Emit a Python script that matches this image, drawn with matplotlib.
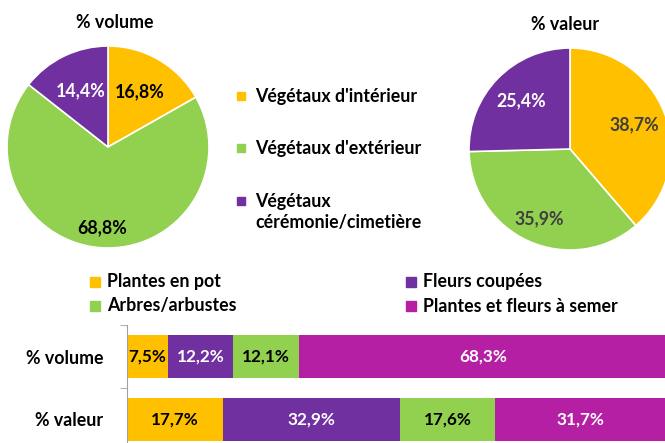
import matplotlib

matplotlib.use("Agg")
import matplotlib.pyplot as plt
import numpy as np

plt.rcParams["font.family"] = ["Lato", "DejaVu Sans"]
plt.rcParams["font.weight"] = "bold"

YELLOW = "#FFC000"
GREEN = "#92D050"
PURPLE = "#7030A0"
MAGENTA = "#B51FA4"

# pies
pie_labels = ["Végétaux d'intérieur", "Végétaux d'extérieur", "Végétaux\ncérémonie/cimetière"]
pie_volume = [16.8, 68.8, 14.4]
pie_valeur = [38.7, 35.9, 25.4]

# stacked bars
bar_cats = ["% volume", "% valeur"]
bar_series = ["Plantes en pot", "Fleurs coupées", "Arbres/arbustes", "Plantes et fleurs à semer"]
bar_values = {
    "Plantes en pot": [7.5, 17.7],
    "Fleurs coupées": [12.2, 32.9],
    "Arbres/arbustes": [12.1, 17.6],
    "Plantes et fleurs à semer": [68.3, 31.7],
}

W, H = 665, 443
FS = 12.8


def px_axes(fig, x0, y0, x1, y1):
    return fig.add_axes([x0 / W, 1 - y1 / H, (x1 - x0) / W, (y1 - y0) / H])


def fmt(v):
    return f"{v:.1f}".replace(".", ",") + "%"


def draw_pie(ax, values, dists, txt_colors):
    wedges, _ = ax.pie(values, colors=[YELLOW, GREEN, PURPLE], startangle=90,
                       counterclock=False, radius=1,
                       wedgeprops=dict(edgecolor="white", linewidth=1.2))
    for w, v, d, c in zip(wedges, values, dists, txt_colors):
        ang = np.deg2rad((w.theta1 + w.theta2) / 2)
        ax.text(d * np.cos(ang), d * np.sin(ang), fmt(v), ha="center", va="center",
                fontsize=FS, fontweight="bold", color=c)
    ax.set_xlim(-1, 1)
    ax.set_ylim(-1, 1)
    ax.set_aspect("equal")
    ax.axis("off")


fig = plt.figure(figsize=(W / 100, H / 100), dpi=100)

ax1 = px_axes(fig, 7, 46, 209, 248)
draw_pie(ax1, pie_volume, [0.63, 0.8, 0.62], ["black", "black", "white"])
ax2 = px_axes(fig, 469, 48, 671, 250)
draw_pie(ax2, pie_valeur, [0.68, 0.76, 0.68], ["#404040", "#404040", "white"])

fig.text(115 / W, 1 - 23 / H, "% volume", ha="center", va="center", fontsize=FS)
fig.text(565 / W, 1 - 25 / H, "% valeur", ha="center", va="center", fontsize=FS)

# middle legend
for lab, col, y in zip(pie_labels, [YELLOW, GREEN, PURPLE], [96, 148, 201]):
    fig.patches.append(plt.Rectangle((237 / W, 1 - (y + 4) / H), 8 / W, 8 / H,
                                     transform=fig.transFigure, color=col))
    fig.text(255 / W, 1 - (y - 8) / H, lab, ha="left", va="top", fontsize=FS,
             linespacing=1.3)

# bar legend
leg_pos = {
    "Plantes en pot": (90, 282),
    "Fleurs coupées": (406, 282),
    "Arbres/arbustes": (90, 306),
    "Plantes et fleurs à semer": (406, 306),
}
colors = {"Plantes en pot": YELLOW, "Fleurs coupées": PURPLE,
          "Arbres/arbustes": GREEN, "Plantes et fleurs à semer": MAGENTA}
txt_col = {"Plantes en pot": "black", "Fleurs coupées": "white",
           "Arbres/arbustes": "black", "Plantes et fleurs à semer": "white"}
for s, (x, y) in leg_pos.items():
    fig.patches.append(plt.Rectangle((x / W, 1 - (y + 5) / H), 10 / W, 10 / H,
                                     transform=fig.transFigure, color=colors[s]))
    fig.text((x + 17) / W, 1 - y / H, s, ha="left", va="center", fontsize=FS)

# stacked bars
axb = px_axes(fig, 127, 325, 667, 451)
ypos = np.arange(len(bar_cats))
left = np.zeros(len(bar_cats))
for s in bar_series:
    vals = np.array(bar_values[s])
    bars = axb.barh(ypos, vals, left=left, height=0.667, color=colors[s])
    for b, v in zip(bars, vals):
        axb.text(b.get_x() + b.get_width() / 2, b.get_y() + b.get_height() / 2, fmt(v),
                 ha="center", va="center", fontsize=FS - 0.5, color=txt_col[s])
    left += vals
axb.set_xlim(0, 100)
axb.set_ylim(1.5, -0.5)
axb.set_yticks(ypos)
axb.set_yticklabels(bar_cats, fontsize=FS)
axb.set_yticks([-0.5, 0.5, 1.5], minor=True)
axb.tick_params(axis="y", which="major", length=0, pad=17)
axb.tick_params(axis="y", which="minor", length=5, color="#A0A0A0")
axb.set_xticks([])
for sp in ["top", "right", "bottom"]:
    axb.spines[sp].set_visible(False)
axb.spines["left"].set_color("#A0A0A0")

fig.savefig("out.png", dpi=100)
